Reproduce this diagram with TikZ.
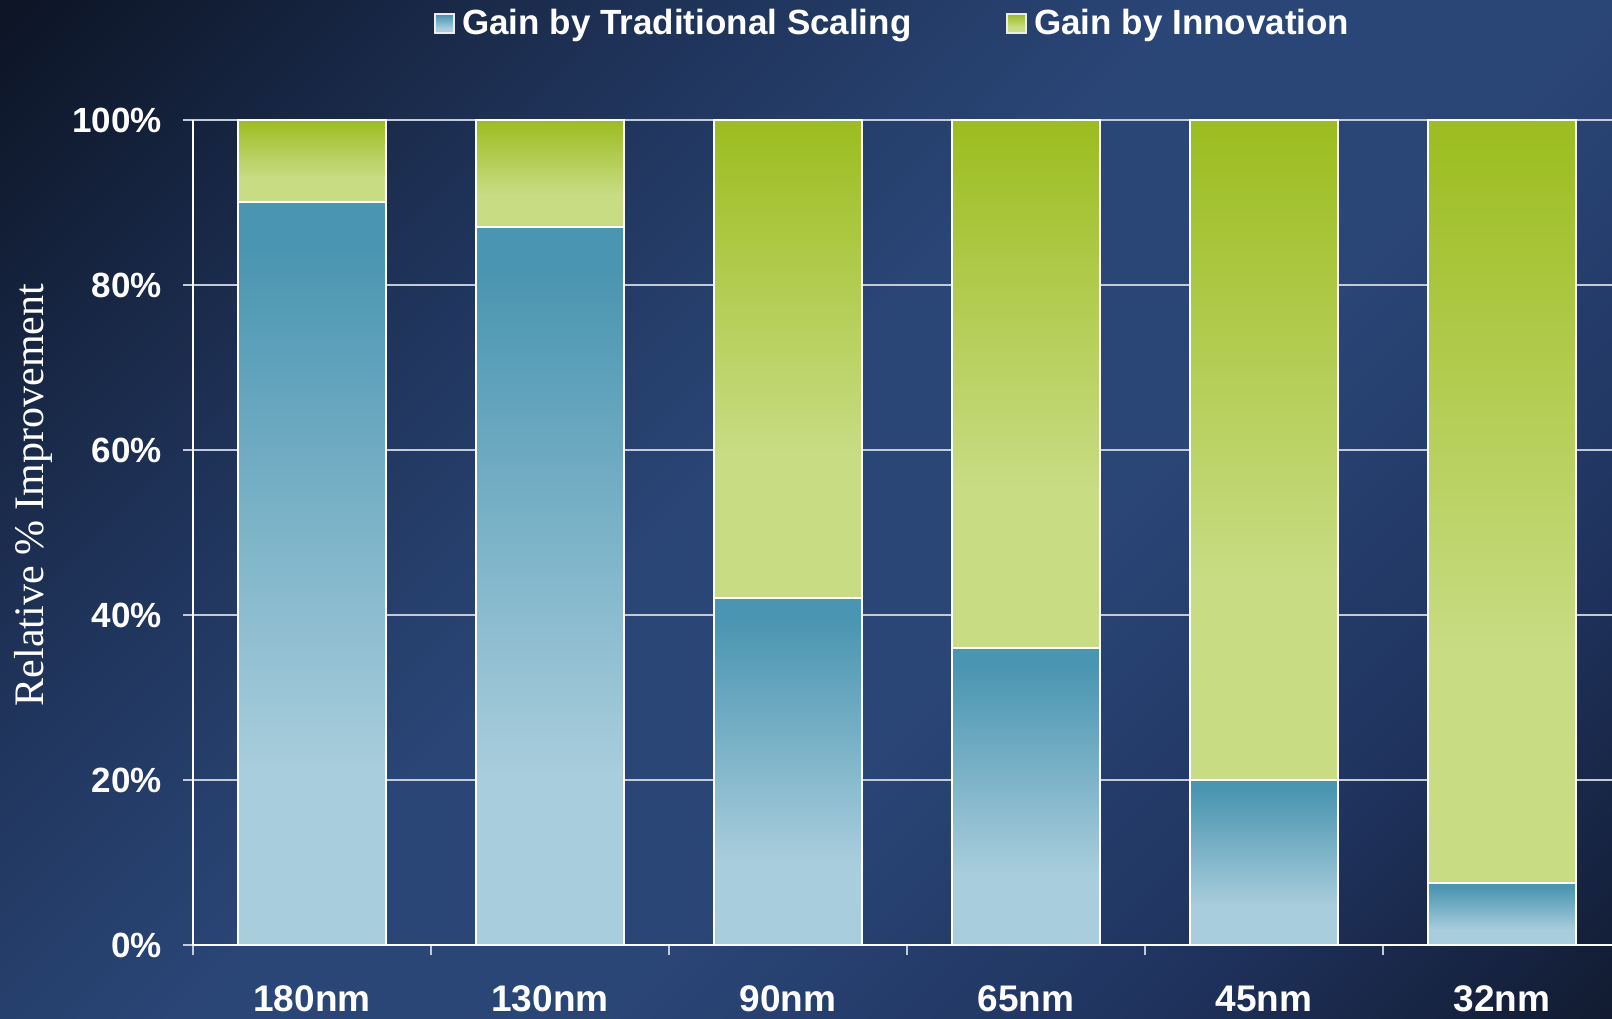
\documentclass[tikz,border=0pt]{standalone}
\usepackage{fontspec}
\setmainfont{Liberation Sans}
\newfontfamily\titleserif{Liberation Serif}
\usepackage{xcolor}
\usepackage{tikz}

\definecolor{bgtop}{HTML}{0D1526}
\definecolor{bgstep}{HTML}{1F3359}
\definecolor{bgmid}{HTML}{2A4677}
\definecolor{bgfall}{HTML}{203460}
\definecolor{bglow}{HTML}{111A2F}
\definecolor{scaledark}{HTML}{4A95B1}
\definecolor{scalelight}{HTML}{A8CDDC}
\definecolor{innodark}{HTML}{9DBE22}
\definecolor{innolight}{HTML}{C8DC84}
\definecolor{gridgray}{HTML}{C3CAD8}

\pgfdeclarehorizontalshading{backshade}{100bp}{color(0bp)=(bgtop); color(15bp)=(bgtop); color(33bp)=(bgstep); color(47bp)=(bgmid); color(58bp)=(bgmid); color(72bp)=(bgfall); color(86bp)=(bglow); color(100bp)=(bglow)}
\pgfdeclareverticalshading{scaleshade}{100bp}{color(0bp)=(scalelight); color(37bp)=(scalelight); color(72bp)=(scaledark); color(100bp)=(scaledark)}
\pgfdeclareverticalshading{innoshade}{100bp}{color(0bp)=(innolight); color(40bp)=(innolight); color(74bp)=(innodark); color(100bp)=(innodark)}

\begin{document}
\begin{tikzpicture}[x=1pt,y=1pt,
		scalebar/.style={shade,shading=scaleshade,draw=white,line width=2pt},
		innobar/.style={shade,shading=innoshade,draw=white,line width=2pt},
		keybox/.style={shade,draw=white!85!gray,line width=1.5pt,minimum size=19pt,inner sep=0pt},
		keytext/.style={text=white,font=\bfseries\fontsize{35}{40}\selectfont,inner sep=0pt},
		ticklabel/.style={text=white,font=\bfseries\fontsize{35}{40}\selectfont,inner sep=0pt},
		barlabel/.style={text=white,font=\bfseries\fontsize{37}{42}\selectfont,inner sep=0pt},
		gridline/.style={gridgray,line width=1.5pt},
		tickline/.style={gridgray,line width=1.5pt}]
				\useasboundingbox (0,0) rectangle (1612,1019);
				\shade[shading=backshade,shading angle=-45] (0,0) rectangle (1612,1019);
				
				% legend
				\node[keybox,shading=scaleshade] (keyscale) at (444.5,995.5){};
				\node[keytext,anchor=base west] (textscale) at (462,984){Gain by Traditional Scaling};
				\node[keybox,shading=innoshade] (keyinno) at (1016.5,995.5){};
				\node[keytext,anchor=base west] (textinno) at (1034,984){Gain by Innovation};
				
				% value axis title
				\node[text=white,font=\titleserif\fontsize{42}{48}\selectfont,inner sep=0pt,rotate=90,anchor=base] (ytitle) at (43,524){Relative \% Improvement};
				
				\begin{scope}[shift={(193,74)},x=238pt,y=8.25pt]
					\foreach \y in {20,40,...,100}{
						\draw[gridline] (0,\y) -- (6,\y);
					}
					\foreach \y in {0,20,...,100}{
						\draw[tickline] (0,\y) -- ++(-10pt,0);
						\node[ticklabel,anchor=east] (p\y) at ([xshift=-31pt]0,\y){\y\%};
					}
					
					% bars: scaling part, then innovation part
					\foreach \x/\lab/\s in
					{0/180/90, 1/130/87, 2/90/42, 3/65/36, 4/45/20, 5/32/7.5}{
						\draw[scalebar] (\x+0.189,0) rectangle (\x+0.811,\s);
						\draw[innobar] (\x+0.189,\s) rectangle (\x+0.811,100);
						\draw[tickline] (\x,0) -- ++(0,-10pt);
						\node[barlabel,anchor=base] (n\lab) at ([yshift=-67pt]\x+0.5,0){\lab nm};
					}
					
					\draw[white,line width=2pt] (0,100) -- (0,0) -- (6,0);
				\end{scope}
			\end{tikzpicture}
\end{document}
